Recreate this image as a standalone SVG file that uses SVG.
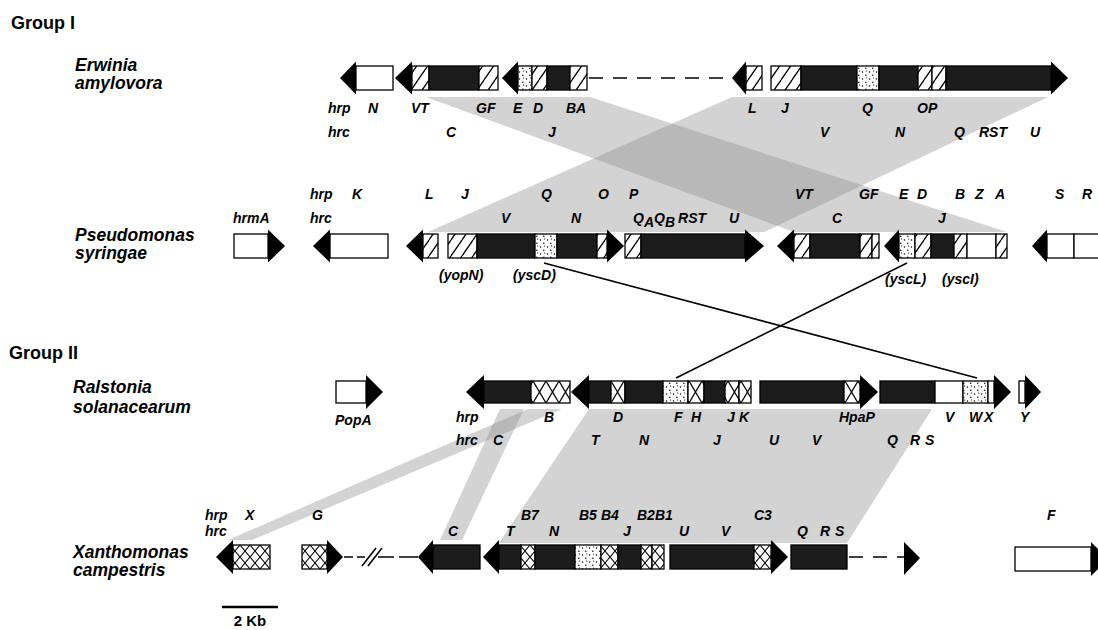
<svg xmlns="http://www.w3.org/2000/svg" width="1098" height="630" viewBox="0 0 1098 630">
<defs>
<style>
.lbl{font-family:"Liberation Sans",Arial,sans-serif;font-weight:bold;font-style:italic;font-size:14px;fill:#000}
.sp{font-family:"Liberation Sans",Arial,sans-serif;font-weight:bold;font-style:italic;font-size:17.5px;fill:#000}
.grp{font-family:"Liberation Sans",Arial,sans-serif;font-weight:bold;font-size:18px;fill:#000}
.sb{font-family:"Liberation Sans",Arial,sans-serif;font-weight:bold;font-size:15px;fill:#000}
.c{stroke:#000;stroke-width:1.3}
.w{fill:#fff}
.h{fill:url(#hatch)}
.d{fill:#1c1c1c}
.s{fill:url(#dots)}
.xr{fill:url(#crossR)}
.xx{fill:url(#crossX)}
.hd{fill:#000}
.band{fill:#8c8c8c;opacity:0.38}
.conn{stroke:#000;stroke-width:1.6;fill:none}
.dash{stroke:#000;stroke-width:1.6;fill:none;stroke-dasharray:14 10}
</style>
<pattern id="hatch" patternUnits="userSpaceOnUse" width="11" height="16">
<rect width="11" height="16" fill="#fff"/>
<path d="M-11,16 L0,0 M0,16 L11,0 M11,16 L22,0" stroke="#000" stroke-width="1.3"/>
</pattern>
<pattern id="dots" patternUnits="userSpaceOnUse" width="7" height="7">
<rect width="7" height="7" fill="#fff"/>
<circle cx="1.5" cy="2" r="0.75" fill="#000"/>
<circle cx="4.8" cy="5.2" r="0.75" fill="#000"/>
<circle cx="5.6" cy="1" r="0.6" fill="#000"/>
</pattern>
<pattern id="crossR" patternUnits="userSpaceOnUse" x="0" y="381" width="13" height="22">
<rect width="13" height="22" fill="#fff"/>
<path d="M0,0 L13,22 M13,0 L0,22" stroke="#000" stroke-width="1.2"/>
</pattern>
<pattern id="crossX" patternUnits="userSpaceOnUse" x="0" y="545" width="10" height="12">
<rect width="10" height="12" fill="#fff"/>
<path d="M0,0 L10,12 M10,0 L0,12" stroke="#000" stroke-width="1.1"/>
</pattern>
</defs>
<rect width="1098" height="630" fill="#fff"/>

<g id="homology">
<path class="band" d="M426,97 L590,97 L1007,232 L794,232 Z"/>
<path class="band" d="M732,97 L1048,97 L764,232 L428,232 Z"/>
<path class="band" d="M589,409 L932,409 L847,543 L499,543 Z"/>
<path class="band" d="M528,409 L562,409 L252,540 L228,540 Z"/>
<path class="band" d="M500,409 L524,409 L462,540 L440,540 Z"/>
</g>

<g id="connectors">
<line class="conn" x1="544" y1="263" x2="977" y2="378"/>
<line class="conn" x1="907" y1="263" x2="676" y2="378"/>
</g>

<g id="titles">
<text class="grp" x="11" y="29">Group I</text>
<text class="grp" x="9" y="359">Group II</text>
<text class="sp" x="75" y="71">Erwinia</text>
<text class="sp" x="75" y="89">amylovora</text>
<text class="sp" x="75" y="241">Pseudomonas</text>
<text class="sp" x="75" y="259">syringae</text>
<text class="sp" x="73" y="393">Ralstonia</text>
<text class="sp" x="73" y="413">solanacearum</text>
<text class="sp" x="73" y="558">Xanthomonas</text>
<text class="sp" x="73" y="576">campestris</text>
</g>

<g id="erwinia">
<g id="ea1"><polygon class="hd" points="340,78 356,61.5 356,94.5"/><rect class="c w" x="356" y="66" width="37" height="24"/></g>
<g id="ea2"><polygon class="hd" points="395,78 412,61.5 412,94.5"/>
<rect class="c h" x="412" y="66" width="17" height="24"/><rect class="c d" x="429" y="66" width="50" height="24"/><rect class="c h" x="479" y="66" width="19" height="24"/></g>
<g id="ea3"><polygon class="hd" points="502,78 518,61.5 518,94.5"/>
<rect class="c s" x="518" y="66" width="14" height="24"/><rect class="c h" x="532" y="66" width="15" height="24"/><rect class="c d" x="547" y="66" width="23" height="24"/><rect class="c h" x="570" y="66" width="17" height="24"/></g>
<line class="dash" x1="589" y1="78" x2="730" y2="78"/>
<g id="ea4"><polygon class="hd" points="732,78 746,61.5 746,94.5"/><rect class="c h" x="746" y="66" width="16" height="24"/></g>
<g id="ea5">
<rect class="c h" x="771" y="66" width="30" height="24"/><rect class="c d" x="801" y="66" width="56" height="24"/><rect class="c s" x="857" y="66" width="22" height="24"/><rect class="c d" x="879" y="66" width="39" height="24"/><rect class="c h" x="918" y="66" width="14" height="24"/><rect class="c h" x="932" y="66" width="14" height="24"/><rect class="c d" x="946" y="66" width="105" height="24"/>
<polygon class="hd" points="1051,61.5 1068,78 1051,94.5"/></g>
<g id="erwinia-labels">
<text class="lbl" x="328" y="113">hrp</text><text class="lbl" x="368" y="113">N</text><text class="lbl" x="411" y="113">VT</text><text class="lbl" x="476" y="113">GF</text><text class="lbl" x="513" y="113">E</text><text class="lbl" x="533" y="113">D</text><text class="lbl" x="566" y="113">BA</text>
<text class="lbl" x="748" y="113">L</text><text class="lbl" x="781" y="113">J</text><text class="lbl" x="862" y="113">Q</text><text class="lbl" x="917" y="113">OP</text>
<text class="lbl" x="328" y="137">hrc</text><text class="lbl" x="446" y="137">C</text><text class="lbl" x="548" y="137">J</text><text class="lbl" x="820" y="137">V</text><text class="lbl" x="895" y="137">N</text><text class="lbl" x="954" y="137">Q</text><text class="lbl" x="979" y="137">RST</text><text class="lbl" x="1030" y="137">U</text>
</g>
</g>

<g id="pseudomonas">
<g id="pa1"><rect class="c w" x="234" y="234" width="34" height="24"/><polygon class="hd" points="268,229.5 285,246 268,262.5"/></g>
<g id="pa2"><polygon class="hd" points="313,246 330,229.5 330,262.5"/><rect class="c w" x="330" y="234" width="58" height="24"/></g>
<g id="pa3"><polygon class="hd" points="406,246 423,229.5 423,262.5"/><rect class="c h" x="423" y="234" width="15" height="24"/></g>
<g id="pa4"><rect class="c h" x="448" y="234" width="29" height="24"/><rect class="c d" x="477" y="234" width="58" height="24"/><rect class="c s" x="535" y="234" width="22" height="24"/><rect class="c d" x="557" y="234" width="40" height="24"/><rect class="c h" x="597" y="234" width="10" height="24"/>
<polygon class="hd" points="607,229.5 624,246 607,262.5"/></g>
<g id="pa5"><rect class="c h" x="625" y="234" width="16" height="24"/><rect class="c d" x="641" y="234" width="104" height="24"/>
<polygon class="hd" points="745,229.5 764,246 745,262.5"/></g>
<g id="pa6"><polygon class="hd" points="777,246 794,229.5 794,262.5"/>
<rect class="c h" x="794" y="234" width="16" height="24"/><rect class="c d" x="810" y="234" width="50" height="24"/><rect class="c h" x="860" y="234" width="12" height="24"/><rect class="c h" x="872" y="234" width="7" height="24"/></g>
<g id="pa7"><polygon class="hd" points="884,246 899,229.5 899,262.5"/>
<rect class="c s" x="899" y="234" width="16" height="24"/><rect class="c h" x="915" y="234" width="16" height="24"/><rect class="c d" x="931" y="234" width="23" height="24"/><rect class="c h" x="954" y="234" width="13" height="24"/><rect class="c w" x="967" y="234" width="29" height="24"/><rect class="c h" x="996" y="234" width="11" height="24"/></g>
<g id="pa8"><polygon class="hd" points="1032,246 1047,229.5 1047,262.5"/>
<rect class="c w" x="1047" y="234" width="27" height="24"/><rect class="c w" x="1074" y="234" width="30" height="24"/></g>
<g id="pseudomonas-labels">
<text class="lbl" x="310" y="199">hrp</text><text class="lbl" x="352" y="199">K</text><text class="lbl" x="425" y="199">L</text><text class="lbl" x="461" y="199">J</text><text class="lbl" x="541" y="199">Q</text><text class="lbl" x="598" y="199">O</text><text class="lbl" x="629" y="199">P</text>
<text class="lbl" x="795" y="199">VT</text><text class="lbl" x="859" y="199">GF</text><text class="lbl" x="899" y="199">E</text><text class="lbl" x="917" y="199">D</text><text class="lbl" x="955" y="199">B</text><text class="lbl" x="975" y="199">Z</text><text class="lbl" x="995" y="199">A</text><text class="lbl" x="1055" y="199">S</text><text class="lbl" x="1082" y="199">R</text>
<text class="lbl" x="233" y="223">hrmA</text><text class="lbl" x="310" y="223">hrc</text><text class="lbl" x="501" y="223">V</text><text class="lbl" x="571" y="223">N</text>
<text class="lbl" x="633" y="223">Q<tspan dy="4">A</tspan><tspan dy="-4">Q</tspan><tspan dy="4">B</tspan><tspan dy="-4" dx="3">RST</tspan></text>
<text class="lbl" x="729" y="223">U</text><text class="lbl" x="832" y="223">C</text><text class="lbl" x="938" y="223">J</text>
<text class="lbl" x="439" y="280">(yopN)</text><text class="lbl" x="513" y="280">(yscD)</text><text class="lbl" x="885" y="284">(yscL)</text><text class="lbl" x="942" y="284">(yscI)</text>
</g>
</g>

<g id="ralstonia">
<g id="ra1"><rect class="c w" x="336" y="381" width="30" height="22"/><polygon class="hd" points="366,375 383,392 366,409"/></g>
<g id="ra2"><polygon class="hd" points="466,392 484,375 484,409"/>
<rect class="c d" x="484" y="381" width="47" height="22"/><rect class="c xr" x="531" y="381" width="39" height="22"/></g>
<g id="ra3"><polygon class="hd" points="571,392 589,375 589,409"/>
<rect class="c d" x="589" y="381" width="22" height="22"/><rect class="c xr" x="611" y="381" width="14" height="22"/><rect class="c d" x="625" y="381" width="38" height="22"/><rect class="c s" x="663" y="381" width="25" height="22"/><rect class="c xr" x="688" y="381" width="16" height="22"/><rect class="c d" x="704" y="381" width="21" height="22"/><rect class="c xr" x="725" y="381" width="14" height="22"/><rect class="c xr" x="739" y="381" width="12" height="22"/></g>
<g id="ra4"><rect class="c d" x="760" y="381" width="84" height="22"/><rect class="c xr" x="844" y="381" width="16" height="22"/><polygon class="hd" points="860,375 878,392 860,409"/></g>
<g id="ra5"><rect class="c d" x="880" y="381" width="55" height="22"/><rect class="c w" x="935" y="381" width="28" height="22"/><rect class="c s" x="963" y="381" width="25" height="22"/><rect class="c w" x="988" y="381" width="6" height="22"/><polygon class="hd" points="994,375 1011,392 994,409"/></g>
<g id="ra6"><rect class="c w" x="1019" y="381" width="6" height="22"/><polygon class="hd" points="1025,375 1041,392 1025,409"/></g>
<g id="ralstonia-labels">
<text class="lbl" x="335" y="425">PopA</text>
<text class="lbl" x="456" y="422">hrp</text><text class="lbl" x="544" y="422">B</text><text class="lbl" x="613" y="422">D</text><text class="lbl" x="674" y="422">F</text><text class="lbl" x="691" y="422">H</text><text class="lbl" x="727" y="422">J</text><text class="lbl" x="739" y="422">K</text><text class="lbl" x="839" y="422">HpaP</text><text class="lbl" x="945" y="422">V</text><text class="lbl" x="969" y="422">W</text><text class="lbl" x="984" y="422">X</text><text class="lbl" x="1020" y="422">Y</text>
<text class="lbl" x="456" y="445">hrc</text><text class="lbl" x="493" y="445">C</text><text class="lbl" x="591" y="445">T</text><text class="lbl" x="639" y="445">N</text><text class="lbl" x="713" y="445">J</text><text class="lbl" x="769" y="445">U</text><text class="lbl" x="812" y="445">V</text><text class="lbl" x="887" y="445">Q</text><text class="lbl" x="910" y="445">R</text><text class="lbl" x="925" y="445">S</text>
</g>
</g>

<g id="xanthomonas">
<g id="xa1"><polygon class="hd" points="216,557 233,540 233,574"/><rect class="c xx" x="233" y="545" width="37" height="24"/></g>
<g id="xa2"><rect class="c xx" x="302" y="545" width="25" height="24"/><polygon class="hd" points="327,540 343,557 327,574"/></g>
<g id="xbreak">
<path class="conn" d="M344,557 H353 M357,557 H365 M378,557 H394 M399,557 H418"/>
<path class="conn" d="M362,566 L376,548 M368,566 L382,548"/>
</g>
<g id="xa3"><polygon class="hd" points="418,557 433,540 433,574"/><rect class="c d" x="433" y="545" width="47" height="24"/></g>
<g id="xa4"><polygon class="hd" points="483,557 499,540 499,574"/>
<rect class="c d" x="499" y="545" width="22" height="24"/><rect class="c xx" x="521" y="545" width="14" height="24"/><rect class="c d" x="535" y="545" width="40" height="24"/><rect class="c s" x="575" y="545" width="26" height="24"/><rect class="c xx" x="601" y="545" width="17" height="24"/><rect class="c d" x="618" y="545" width="23" height="24"/><rect class="c xx" x="641" y="545" width="11" height="24"/><rect class="c xx" x="652" y="545" width="12" height="24"/></g>
<g id="xa5"><rect class="c d" x="670" y="545" width="84" height="24"/><rect class="c xx" x="754" y="545" width="17" height="24"/><polygon class="hd" points="771,540 788,557 771,574"/></g>
<g id="xa6"><rect class="c d" x="791" y="545" width="56" height="24"/><line class="dash" x1="849" y1="557" x2="904" y2="557"/><polygon class="hd" points="904,542 920,558 904,575"/></g>
<g id="xa7"><rect class="c w" x="1015" y="547" width="76" height="24"/><polygon class="hd" points="1091,542 1108,559 1091,576"/></g>
<g id="xanthomonas-labels">
<text class="lbl" x="205" y="520">hrp</text><text class="lbl" x="245" y="520">X</text><text class="lbl" x="312" y="520">G</text><text class="lbl" x="521" y="520">B7</text><text class="lbl" x="579" y="520">B5</text><text class="lbl" x="601" y="520">B4</text><text class="lbl" x="637" y="520">B2B1</text><text class="lbl" x="754" y="520">C3</text><text class="lbl" x="1047" y="520">F</text>
<text class="lbl" x="205" y="536">hrc</text><text class="lbl" x="448" y="536">C</text><text class="lbl" x="506" y="536">T</text><text class="lbl" x="549" y="536">N</text><text class="lbl" x="623" y="536">J</text><text class="lbl" x="679" y="536">U</text><text class="lbl" x="721" y="536">V</text><text class="lbl" x="797" y="536">Q</text><text class="lbl" x="820" y="536">R</text><text class="lbl" x="835" y="536">S</text>
</g>
</g>

<g id="scale">
<line x1="222" y1="607" x2="278" y2="607" stroke="#000" stroke-width="2.5"/>
<text class="sb" x="250" y="626" text-anchor="middle">2 Kb</text>
</g>
</svg>
